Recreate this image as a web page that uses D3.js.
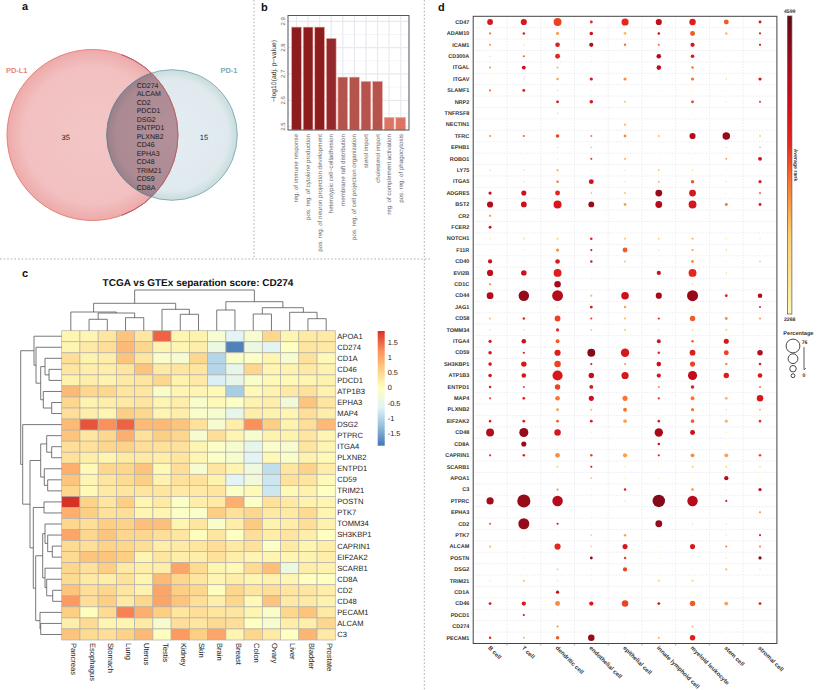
<!DOCTYPE html>
<html><head><meta charset="utf-8">
<script src="https://cdn.jsdelivr.net/npm/d3@7"></script>
<style>html,body{margin:0;padding:0;background:#fff}svg{display:block}text{font-family:"Liberation Sans",Arial,sans-serif;text-rendering:geometricPrecision}</style>
</head><body><svg id="c" width="817" height="690"></svg>
<script>
// ---- panel a
const vennSets = ["PD-L1","PD-1"];
const vennOnly = [35,15];
const vennShared = ["CD274","ALCAM","CD2","PDCD1","DSG2","ENTPD1","PLXNB2","CD46","EPHA3","CD48","TRIM21","CD59","CD8A"];
// ---- panel b
const goTerms = ["reg. of immune response","pos. reg. of cytokine production","pos. reg. of neuron projection development","heterotypic cell\u2212celladhesion","membrane raft distribution","pos. reg. of cell projection organization","sterol import","cholesterol import","reg. of complement activation","pos. reg. of phagocytosis"];
const goValues = [2.878,2.878,2.878,2.835,2.688,2.688,2.672,2.672,2.535,2.535];
const goTicks = [2.5,2.6,2.7,2.8,2.9];
// ---- panel c
const tissues = ["Pancreas","Esophagus","Stomach","Lung","Uterus","Testis","Kidney","Skin","Brain","Breast","Colon","Ovary","Liver","Bladder","Prostate"];
const heatGenes = ["APOA1","CD274","CD1A","CD46","PDCD1","ATP1B3","EPHA3","MAP4","DSG2","PTPRC","ITGA4","PLXNB2","ENTPD1","CD59","TRIM21","POSTN","PTK7","TOMM34","SH3KBP1","CAPRIN1","EIF2AK2","SCARB1","CD8A","CD2","CD48","PECAM1","ALCAM","C3"];
const heatValues = [
[.1,.1,.3,.7,.3,1.5,.1,.15,-.2,-.6,-.2,.5,.1,.25,.25],
[.1,.25,.4,.8,.5,.1,.1,.2,-.4,-1.8,-.4,-.6,-.05,.3,.25],
[.4,.15,.2,.7,.3,-.15,-.2,.5,-1,-.15,-.1,.1,-.2,.35,.05],
[.3,.2,.2,.3,.7,.25,.3,.3,-1,-.5,.5,.1,.15,.25,.15],
[.15,.2,.15,.25,.3,.5,.15,.25,-.7,-.5,-.15,.05,.05,.1,.15],
[.8,.5,.5,.3,.3,-.15,.1,.1,.05,-1.1,.05,.15,.25,.35,.15],
[.5,.15,.2,.25,.3,.1,.2,-.15,.05,-.1,.15,.2,-.3,.7,.3],
[.4,.2,.1,.6,.5,.1,.2,-.15,-.2,-.5,.2,.15,.1,.4,.2],
[.8,1.6,1.2,1.5,.8,.8,.7,.35,-.2,.2,1.2,.6,.15,.4,.8],
[.7,.3,.5,.9,.35,.6,.5,-.2,.4,.1,-.2,.15,.15,.3,.1],
[.4,.35,.5,.55,.4,.35,.35,.1,-.1,-.2,-.5,-.15,-.2,.3,.1],
[.35,.2,.1,.25,.25,.2,.3,.1,-.1,-.2,-.6,.05,-.15,.15,.05],
[.9,.05,.5,.5,.7,.05,.4,-.2,.3,.1,-.35,-.9,.3,.55,.2],
[.7,.1,.3,.45,.6,.15,.35,.35,.15,-.6,-.3,-.8,.35,.3,.05],
[.5,.05,.25,.3,.3,.3,.25,.25,.3,-.1,.05,-.8,.05,.15,-.05],
[1.85,.55,.3,.6,.1,.25,-.1,.2,.25,.9,-.1,.35,.25,.15,.1],
[.9,.6,.35,.4,.1,.1,-.1,-.15,.6,.35,.5,.25,.25,.45,.1],
[.5,.4,.6,.55,.75,.75,.1,.3,-.15,.2,.65,.15,.2,.4,.15],
[1,.5,.7,.5,.5,.4,.3,0,.3,-.05,.4,.2,.3,.2,-.05],
[.45,.4,.55,.5,.4,.2,.25,.3,.4,.25,.35,-.1,.25,.1,.2],
[.45,.7,.7,.6,.1,.3,.2,.2,.35,.2,.1,.1,.1,.15,.2],
[.5,.35,.6,.25,.2,.2,1,.45,.1,.05,.45,.75,-.4,.2,.15],
[.45,.25,.2,.35,.1,.8,.5,.3,.1,.2,.1,.15,.1,-.05,-.05],
[.7,.4,.5,.3,.15,1,.6,.5,0,.5,.3,.4,.3,.3,.2],
[1.1,.4,.6,.25,.5,1,.7,.4,.2,.5,.05,.7,.25,.25,.15],
[.6,0,.45,1.3,.9,.6,.3,.4,.3,.3,.1,-.15,.5,.7,.25],
[.2,.45,.1,.1,.25,-.2,.4,.3,.45,.4,-.05,-.2,.2,.2,.5],
[.7,.45,.4,.55,.8,0,1.1,.6,1,.1,.5,.25,-.05,.85,.25]];
const heatLegendTicks = [1.5,1,.5,0,-.5,-1,-1.5];
const heatStops = ["#4575B4","#91BFDB","#E0F3F8","#FFFFBF","#FDCF85","#FC8D59","#D73027"];
const colTree = [40.7,[27.4,[18.7,"Pancreas",[17.7,[11.4,"Esophagus","Stomach"],[13,"Lung","Uterus"]]],[21.4,"Testis",[16.4,"Kidney","Skin"]]],[29,[20.7,"Brain","Breast"],[23,[16.7,"Colon","Ovary"],[18.4,"Liver",[12,"Bladder","Prostate"]]]]];
const rowTree = [41,[27.7,"APOA1",[25.7,"CD274",[21,[16.7,"CD1A",[12.7,"CD46","PDCD1"]],[18.4,"ATP1B3",[10,"EPHA3","MAP4"]]]]],
 [39,"DSG2",[31.7,[21,[15,"PTPRC",[10,"ITGA4","PLXNB2"]],[17.4,"ENTPD1",[14,"CD59","TRIM21"]]],
 [28.4,[17.7,"POSTN","PTK7"],[26,[19,[16.7,"TOMM34",[14,"SH3KBP1",[9.4,"CAPRIN1","EIF2AK2"]]],[16.7,"SCARB1",[15,"CD8A",[9,"CD2","CD48"]]]],[21.7,"PECAM1",[21,"ALCAM","C3"]]]]]]];
// ---- panel d
const cellTypes = ["B cell","T cell","dendritic cell","endothelial cell","epithelial cell","innate lymphoid cell","myeloid leukocyte","stem cell","stromal cell"];
const dotGenes = ["CD47","ADAM10","ICAM1","CD300A","ITGAL","ITGAV","SLAMF1","NRP2","TNFRSF8","NECTIN1","TFRC","EPHB1","ROBO1","LY75","ITGA5","ADGRE5","BST2","CR2","FCER2","NOTCH1","F11R","CD40","EVI2B","CD1C","CD44","JAG1","CD58","TOMM34","ITGA4","CD59","SH3KBP1","ATP1B3","ENTPD1","MAP4","PLXNB2","EIF2AK2","CD48","CD8A","CAPRIN1","SCARB1","APOA1","C3","PTPRC","EPHA3","CD2","PTK7","ALCAM","POSTN","DSG2","TRIM21","CD1A","CD46","PDCD1","CD274","PECAM1"];
const dotPct = [
[30,32,42,13,38,32,34,25,13],[9,11,15,17,13,11,25,11,9],[8,4,23,21,11,9,21,2,9],[4,8,25,2,0,23,17,2,0],[8,19,9,2,0,23,11,2,2],
[2,4,11,15,15,2,15,6,15],[9,13,4,2,0,2,2,2,0],[0,0,13,17,9,0,13,4,9],[0,0,4,0,0,0,2,0,0],[0,0,2,0,9,0,0,0,0],
[8,9,17,8,13,8,32,40,8],[2,0,4,6,0,0,2,4,6],[0,2,4,9,9,2,2,8,19],[4,4,9,2,4,8,6,2,0],[2,4,11,25,4,8,17,4,15],
[15,26,25,6,9,36,36,4,9],[32,30,43,30,13,36,42,13,13],[9,2,2,0,0,0,0,0,0],[13,0,2,0,0,0,0,0,0],[4,6,8,11,9,8,9,4,4],
[2,2,15,9,25,4,9,6,2],[21,2,23,11,9,2,13,2,6],[32,28,42,2,0,21,42,4,0],[8,2,34,0,2,2,6,2,0],[36,57,59,9,40,32,60,13,23],
[0,0,4,13,11,2,4,2,8],[8,11,30,9,9,9,28,13,8],[4,4,15,8,9,4,6,9,2],[15,23,19,2,0,19,11,26,2],[17,9,32,42,45,11,30,25,28],
[17,28,34,9,9,23,26,13,11],[17,23,55,28,38,21,49,28,23],[11,8,28,19,2,8,17,2,8],[9,13,23,26,26,9,19,13,34],[2,2,13,8,19,2,15,4,8],
[11,13,13,13,17,11,17,15,11],[42,49,34,2,0,45,25,4,0],[2,26,2,0,0,11,0,2,0],[9,11,23,11,21,9,19,19,11],[2,2,8,9,4,2,9,8,6],
[2,2,2,6,4,4,2,21,2],[2,2,9,2,11,2,11,4,15],[38,72,57,2,6,68,57,9,2],[0,0,0,2,0,0,0,0,8],[9,60,9,2,0,36,4,4,2],
[0,0,2,6,11,2,2,4,9],[9,2,32,6,26,2,26,8,9],[0,2,2,13,11,2,2,4,15],[2,2,8,2,21,2,2,9,4],[4,8,4,4,2,8,8,2,2],
[2,0,15,2,2,0,2,0,0],[13,21,25,21,34,13,28,19,13],[2,9,2,0,0,0,0,0,0],[0,2,8,2,0,0,8,2,2],[11,8,17,34,2,9,28,2,2]];
const dotRank = [
[3800,3800,3500,3600,3600,4000,3700,3400,3800],[3300,3700,3100,3900,3000,4000,3400,3000,3600],[3200,2900,3700,4100,3300,3300,3800,2700,3900],[2900,3400,3600,2700,2700,4100,3800,2700,2700],[3200,3900,3000,2700,2700,4000,3300,2700,2700],
[2700,2900,3100,3800,3200,2700,3300,2800,3800],[3300,3800,2900,2700,2700,2700,2700,2700,2700],[2700,2700,3800,3800,2900,2700,3500,2700,3500],[2700,2700,2800,2700,2700,2700,2700,2700,2700],[2700,2700,2700,2700,3000,2700,2700,2700,2700],
[3200,3400,3500,3300,3200,3000,4100,4300,2900],[2700,2700,2800,2900,2700,2700,2700,2800,3000],[2700,2700,2700,3500,3000,2700,2700,3100,3900],[2900,2900,3100,2700,2600,2900,2700,2700,2700],[2700,2900,3300,3900,2700,3000,3400,2800,3700],
[3900,3900,3600,3000,2900,4300,3800,2600,3300],[4100,3900,3800,4300,3100,4100,3800,3300,3800],[3200,2700,2700,2700,2700,2700,2700,2700,2700],[3900,2700,2700,2700,2700,2700,2700,2700,2700],[2700,2800,2900,3700,2900,2900,3000,2600,2600],
[2700,2700,3200,3800,3400,2900,3100,2800,2700],[3900,2700,3800,3800,2900,2700,3200,2700,3000],[4000,3900,3700,2700,2700,3900,3600,2800,2700],[3300,2700,4200,2700,2500,2700,2800,2700,2700],[4100,4300,4100,3000,3900,4200,4300,3600,4100],
[2700,2700,2800,3800,3100,2700,2800,2700,3700],[3000,3600,3500,3500,3000,3700,3400,3200,3200],[2900,2900,3600,2900,2800,2700,2800,2800,2700],[3800,3900,3400,2700,2700,3900,3400,3800,2700],[3800,3800,3700,4400,3800,3600,3700,3500,4100],
[3800,3800,3500,3700,3100,3900,3500,3100,3700],[3800,3800,3800,4000,3800,3800,4000,3700,3800],[3700,3500,3500,3800,2700,3200,3700,2700,3300],[3500,3600,3300,3900,3300,3700,3300,3000,3800],[2700,2700,3100,3000,3300,2700,3300,2700,3000],
[3700,3700,3400,3700,3100,3800,3400,3000,3600],[4100,4300,3800,2700,2700,4200,3900,2600,2700],[2700,4300,2700,2700,2700,3900,2700,2700,2700],[3600,3700,3200,3500,3100,3600,3200,3100,3500],[2700,2700,2900,3800,2600,2700,2900,2800,2800],
[2700,2700,2700,3000,2500,2500,2700,4100,2700],[2700,2700,3200,2700,3700,2700,3200,2600,4000],[4200,4300,4100,2700,2600,4400,4100,3700,2700],[2700,2700,2700,2700,2700,2700,2700,2700,3200],[3400,4300,3800,2700,2700,4300,2800,2700,2700],
[2700,2700,2700,2900,3100,2700,2700,2600,3600],[3000,2700,3600,2900,3800,2700,3800,3300,3200],[2700,2700,2700,4300,3500,2700,2700,2700,4400],[2700,2700,2900,2700,3500,2700,2700,3000,2800],[2700,3000,2800,2500,2500,2900,2900,2700,2700],
[2700,2700,4000,2700,2700,2700,2700,2700,2700],[3800,3800,3200,3800,3500,3800,3400,3100,3700],[2700,3900,2700,2700,2700,2700,2700,2700,2700],[2700,2700,3200,2700,2700,2700,3000,2700,2700],[3600,3000,3400,4300,2700,3000,3700,2700,2700]];
const rankDomain = [2268,2900,3300,3600,3900,4200,4599];
const rankColors = ["#fdf6b5","#fecc6e","#f8762e","#e4261f","#cf0f1a","#a80a1c","#5f0a14"];
const pctLegend = [76,53,34,19];

const svg = d3.select("#c");
const defs = svg.append("defs");
const FONT = '"Liberation Sans",Arial,sans-serif';

// dividers
[[254,0,254,259],[0,259,430,259],[424.3,0,424.3,690]].forEach(l=>{
  svg.append("line").attr("x1",l[0]).attr("y1",l[1]).attr("x2",l[2]).attr("y2",l[3])
    .attr("stroke","#9a96a8").attr("stroke-width",.8).attr("stroke-dasharray","1.6 2");
});
// panel letters
[["a",22,10],["b",261,11],["c",22,277],["d",438,11]].forEach(p=>{
  svg.append("text").attr("x",p[1]).attr("y",p[2]).text(p[0]).attr("font-size",11).attr("font-weight","bold").attr("fill","#111");
});

// ===== Panel a
function rad(id,stops){const g=defs.append("radialGradient").attr("id",id);stops.forEach(s=>g.append("stop").attr("offset",s[0]).attr("stop-color",s[1]));}
rad("gL",[[0,"#f3c6c6"],[.8,"#f2c0c0"],[1,"#eeaaaa"]]);
rad("gR",[[0,"#e4ecf0"],[.85,"#e0eaee"],[1,"#c8dcdc"]]);
rad("gX",[[0,"#b3909a"],[.85,"#ac8a93"],[1,"#9a808a"]]);
const vennX = d3.scaleLinear().domain([0,1]).range([92.5,172]);
const vennR = [85.5,65.3];
const circleL = {cx:vennX(0),cy:135,r:vennR[0]}, circleR = {cx:vennX(1),cy:135,r:vennR[1]};
svg.append("circle").attr("cx",circleL.cx).attr("cy",135).attr("r",circleL.r).attr("fill","url(#gL)").attr("stroke","#e2786a").attr("stroke-width",.9);
svg.append("circle").attr("cx",circleR.cx).attr("cy",135).attr("r",circleR.r).attr("fill","url(#gR)").attr("stroke","#7fa8b4").attr("stroke-width",.9);
defs.append("clipPath").attr("id","lens").append("circle").attr("cx",circleL.cx).attr("cy",135).attr("r",circleL.r);
svg.append("circle").attr("clip-path","url(#lens)").attr("cx",circleR.cx).attr("cy",135).attr("r",circleR.r).attr("fill","url(#gX)").attr("stroke","#6f7f8c").attr("stroke-width",.9);
svg.append("path").attr("d",d3.arc()({innerRadius:circleL.r,outerRadius:circleL.r,startAngle:0.35,endAngle:Math.PI-0.35})).attr("transform",`translate(${circleL.cx},135)`).attr("fill","none").attr("stroke","#b5636a").attr("stroke-width",.8);
svg.append("text").attr("x",6).attr("y",73).text(vennSets[0]).attr("font-size",7.4).attr("font-weight","bold").attr("fill","#e58679");
svg.append("text").attr("x",220.5).attr("y",73).text(vennSets[1]).attr("font-size",7.4).attr("font-weight","bold").attr("fill","#7da9b7");
svg.append("text").attr("x",65.7).attr("y",140).attr("text-anchor","middle").text(vennOnly[0]).attr("font-size",7.5).attr("fill","#222");
svg.append("text").attr("x",204).attr("y",140).attr("text-anchor","middle").text(vennOnly[1]).attr("font-size",7.5).attr("fill","#222");
const vennY = d3.scalePoint().domain(vennShared).range([85.3,187.3]);
svg.append("g").selectAll("text").data(vennShared).join("text").attr("x",136.7).attr("y",d=>vennY(d)+2.5).text(d=>d).attr("font-size",7).attr("fill","#1a1a1a");

// ===== Panel b
const bX = d3.scaleBand().domain(goTerms).range([291.6,405.6]).paddingInner(.155).paddingOuter(0);
const bY = d3.scaleLinear().domain([2.5,2.9]).range([126.6,21.3]);
const bBox = {x:288,y:15.5,w:121,h:114.5};
const bCol = d3.scaleLinear().domain([2.535,2.672,2.688,2.835,2.878]).range(["#dd7463","#b6534c","#b4524c","#94282a","#8c1c1e"]);
const gB = svg.append("g");
d3.range(2.55,2.9,.1).forEach(v=>gB.append("line").attr("x1",bBox.x).attr("x2",bBox.x+bBox.w).attr("y1",bY(v)).attr("y2",bY(v)).attr("stroke","#f2f2f6").attr("stroke-width",.8));
goTicks.forEach(v=>gB.append("line").attr("x1",bBox.x).attr("x2",bBox.x+bBox.w).attr("y1",bY(v)).attr("y2",bY(v)).attr("stroke","#e9e9f0").attr("stroke-width",1.2));
goTerms.forEach(t=>gB.append("line").attr("y1",bBox.y).attr("y2",bBox.y+bBox.h).attr("x1",bX(t)+bX.bandwidth()/2).attr("x2",bX(t)+bX.bandwidth()/2).attr("stroke","#e9e9f0").attr("stroke-width",1.2));
gB.append("g").selectAll("rect").data(goTerms).join("rect").attr("x",d=>bX(d)).attr("width",bX.bandwidth())
  .attr("y",(d,i)=>bY(goValues[i])).attr("height",(d,i)=>bBox.y+bBox.h-bY(goValues[i]))
  .attr("fill",(d,i)=>bCol(goValues[i])).attr("stroke","#eab4ac").attr("stroke-width",.6);
gB.append("rect").attr("x",bBox.x).attr("y",bBox.y).attr("width",bBox.w).attr("height",bBox.h).attr("fill","none").attr("stroke","#55555c").attr("stroke-width",1);
goTicks.forEach(v=>gB.append("text").attr("transform",`translate(284.5,${bY(v)}) rotate(-90)`).attr("text-anchor","middle").text(v.toFixed(1)).attr("font-size",6).attr("fill","#666"));
gB.append("text").attr("transform","translate(276,71) rotate(-90)").attr("text-anchor","middle").text("\u2212log10(adj. p\u2212value)").attr("font-size",6.8).attr("fill","#222");
goTerms.forEach(t=>gB.append("text").attr("transform",`translate(${bX(t)+bX.bandwidth()/2+2},134) rotate(-90)`).attr("text-anchor","end").text(t).attr("font-size",6.2).attr("fill","#66666c"));

// ===== Panel c
const hX = d3.scaleBand().domain(tissues).range([61.7,335.3]);
const hY = d3.scaleBand().domain(heatGenes).range([330.7,640]);
const hDom = d3.range(7).map(i=>-1.9+i*3.75/6);
const hCol = d3.scaleLinear().domain(hDom).range(heatStops);
svg.append("text").attr("x",198).attr("y",286).attr("text-anchor","middle").attr("font-size",10).attr("font-weight","bold").attr("fill","#111").text("TCGA vs GTEx separation score: CD274");
const cells = [];
heatGenes.forEach((g,i)=>tissues.forEach((t,j)=>cells.push({g,t,v:heatValues[i][j]})));
svg.append("g").selectAll("rect").data(cells).join("rect").attr("x",d=>hX(d.t)).attr("y",d=>hY(d.g)).attr("width",hX.bandwidth()).attr("height",hY.bandwidth())
  .attr("fill",d=>hCol(d.v)).attr("stroke","#b4b0a8").attr("stroke-width",.7);
const axR = d3.axisRight(hY).tickSize(0).tickPadding(2);
const gAR = svg.append("g").attr("transform","translate(335.3,0)").call(axR);
gAR.select(".domain").remove();
gAR.selectAll("text").attr("font-size",7.6).attr("font-family",FONT).attr("fill","#222");
const axB = d3.axisBottom(hX).tickSize(0).tickPadding(0);
const gAB = svg.append("g").attr("transform","translate(0,640)").call(axB);
gAB.select(".domain").remove();
gAB.selectAll("text").attr("transform","translate(0,3) rotate(90)").attr("x",0).attr("y",-3).attr("dy","0.32em").attr("text-anchor","start").attr("font-size",7.6).attr("font-family",FONT).attr("fill","#222");
// dendrograms
function walk(n,pos,out){ if(typeof n==="string") return {p:pos(n),h:0};
  const a=walk(n[1],pos,out), b=walk(n[2],pos,out); out.push({a,b,h:n[0]}); return {p:(a.p+b.p)/2,h:n[0]}; }
const colSegs=[]; walk(colTree,t=>hX(t)+hX.bandwidth()/2,colSegs);
const colH = d3.scaleLinear().domain([0,40.7]).range([330.7,290]);
const rowSegs=[]; walk(rowTree,g=>hY(g)+hY.bandwidth()/2,rowSegs);
const rowH = d3.scaleLinear().domain([0,41]).range([61.7,20.7]);
svg.append("g").selectAll("path").data(colSegs).join("path").attr("fill","none").attr("stroke","#555").attr("stroke-width",.8)
  .attr("d",s=>`M${s.a.p},${colH(s.a.h)}V${colH(s.h)}H${s.b.p}V${colH(s.b.h)}`);
svg.append("g").selectAll("path").data(rowSegs).join("path").attr("fill","none").attr("stroke","#555").attr("stroke-width",.8)
  .attr("d",s=>`M${rowH(s.a.h)},${s.a.p}H${rowH(s.h)}V${s.b.p}H${rowH(s.b.h)}`);
// heat legend
const hLeg = d3.scaleLinear().domain([-1.9,1.85]).range([445.7,331]);
const hg = defs.append("linearGradient").attr("id","hg").attr("x1",0).attr("y1",1).attr("x2",0).attr("y2",0);
heatStops.forEach((c,i)=>hg.append("stop").attr("offset",i/6).attr("stop-color",c));
svg.append("rect").attr("x",377.7).attr("y",331).attr("width",7).attr("height",114.7).attr("fill","url(#hg)");
const gHL = svg.append("g").attr("transform","translate(384.7,0)").call(d3.axisRight(hLeg).tickValues(heatLegendTicks).tickSize(0).tickPadding(3).tickFormat(d=>String(d)));
gHL.select(".domain").remove();
gHL.selectAll("text").attr("font-size",7.4).attr("font-family",FONT).attr("fill","#222");

// ===== Panel d
const dX = d3.scaleBand().domain(cellTypes).range([473.2,776.9]);
const dY = d3.scaleBand().domain(dotGenes).range([16.3,643.5]);
const rCol = d3.scaleLinear().domain(rankDomain).range(rankColors);
const rR = d3.scaleLinear().domain([0,76]).range([0.3,6.9]);
const gD = svg.append("g");
const gridCol="#dfdfe8";
dotGenes.slice(1).forEach(g=>gD.append("line").attr("x1",473.2).attr("x2",776.9).attr("y1",dY(g)).attr("y2",dY(g)).attr("stroke",gridCol).attr("stroke-width",.7).attr("stroke-dasharray","1.2 1.6"));
cellTypes.slice(1).forEach(t=>gD.append("line").attr("y1",16.3).attr("y2",643.5).attr("x1",dX(t)).attr("x2",dX(t)).attr("stroke",gridCol).attr("stroke-width",.7).attr("stroke-dasharray","1.2 1.6"));
const dots=[];
dotGenes.forEach((g,i)=>cellTypes.forEach((t,j)=>{if(dotPct[i][j]>0)dots.push({g,t,p:dotPct[i][j],k:dotRank[i][j]});}));
gD.append("g").selectAll("circle").data(dots).join("circle").attr("cx",d=>dX(d.t)+dX.bandwidth()/2).attr("cy",d=>dY(d.g)+dY.bandwidth()/2)
  .attr("r",d=>rR(d.p)).attr("fill",d=>rCol(d.k));
gD.append("rect").attr("x",473.2).attr("y",16.3).attr("width",303.7).attr("height",627.2).attr("fill","none").attr("stroke","#444").attr("stroke-width",1);
cellTypes.slice(1).forEach(t=>gD.append("line").attr("y1",643.5).attr("y2",645.5).attr("x1",dX(t)).attr("x2",dX(t)).attr("stroke","#777").attr("stroke-width",.6));
const gDL = svg.append("g").attr("transform","translate(473.2,0)").call(d3.axisLeft(dY).tickSize(0).tickPadding(3.9));
gDL.select(".domain").remove();
gDL.selectAll("text").attr("font-size",5.5).attr("font-weight","bold").attr("font-family",FONT).attr("fill","#333");
const gDB = svg.append("g").attr("transform","translate(0,643.5)").call(d3.axisBottom(dX).tickSize(0));
gDB.select(".domain").remove();
gDB.selectAll("text").attr("transform","translate(-1,3.5) rotate(45)").attr("x",0).attr("y",0).attr("dy","0.32em").attr("text-anchor","start").attr("font-size",6).attr("font-weight","bold").attr("font-family",FONT).attr("fill","#333");
// colour bar
const cbY = d3.scaleLinear().domain([2268,4599]).range([314,16]);
const cg = defs.append("linearGradient").attr("id","cg").attr("x1",0).attr("y1",1).attr("x2",0).attr("y2",0);
rankDomain.forEach((v,i)=>cg.append("stop").attr("offset",(v-2268)/(4599-2268)).attr("stop-color",rankColors[i]));
svg.append("rect").attr("x",787.5).attr("y",cbY(4599)).attr("width",4.4).attr("height",cbY(2268)-cbY(4599)).attr("fill","url(#cg)").attr("stroke","#555").attr("stroke-width",.7);
svg.append("text").attr("x",789.7).attr("y",12.8).attr("text-anchor","middle").attr("font-size",5.2).attr("font-weight","bold").attr("fill","#333").text(rankDomain[rankDomain.length-1]);
svg.append("text").attr("x",789.7).attr("y",321).attr("text-anchor","middle").attr("font-size",5.2).attr("font-weight","bold").attr("fill","#333").text(rankDomain[0]);
svg.append("text").attr("transform","translate(794.2,165) rotate(90)").attr("text-anchor","middle").attr("font-size",5.2).attr("font-weight","bold").attr("fill","#333").text("Average rank");
// size legend
svg.append("text").attr("x",783.3).attr("y",334.8).attr("font-size",5.6).attr("font-weight","bold").attr("fill","#333").text("Percentage");
const legCy = {76:346,53:358.7,34:368.7,19:375.7};
svg.append("g").selectAll("circle").data(pctLegend).join("circle").attr("cx",793).attr("cy",d=>legCy[d]).attr("r",d=>rR(d)).attr("fill","#fff").attr("stroke","#333").attr("stroke-width",.9);
svg.append("line").attr("x1",804).attr("x2",804).attr("y1",347).attr("y2",369.5).attr("stroke","#333").attr("stroke-width",.8);
svg.append("path").attr("d","M804,370L805.8,368").attr("stroke","#333").attr("stroke-width",.8).attr("fill","none");
svg.append("text").attr("x",804.6).attr("y",344.2).attr("text-anchor","middle").attr("font-size",5.2).attr("font-weight","bold").attr("fill","#333").text(pctLegend[0]);
svg.append("text").attr("x",804).attr("y",376.6).attr("text-anchor","middle").attr("font-size",5.2).attr("font-weight","bold").attr("fill","#333").text("0");
</script></body></html>
